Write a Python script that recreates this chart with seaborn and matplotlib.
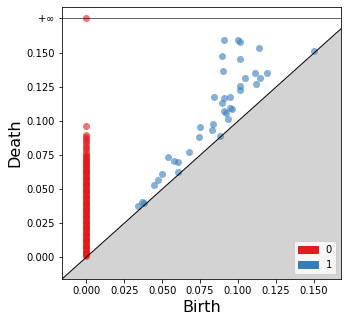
import numpy as np
import pandas as pd
import matplotlib
matplotlib.use("Agg")
import matplotlib.pyplot as plt
import matplotlib.patches as mpatches
import seaborn as sns

# H0 (dimension 0): all births at 0; one infinite class
h0_deaths = [0.0967, 0.0900, 0.0883, 0.0871, 0.0855, 0.0839, 0.0820, 0.0802,
             0.0785, 0.0770, 0.0755, 0.0745, 0.0735, 0.0726, 0.0716, 0.0705,
             0.0697, 0.0688, 0.0679, 0.0670, 0.0661, 0.0652, 0.0643, 0.0635,
             0.0626, 0.0618, 0.0609, 0.0600, 0.0591, 0.0582, 0.0573, 0.0565,
             0.0556, 0.0548, 0.0539, 0.0530, 0.0521, 0.0512, 0.0503, 0.0495,
             0.0486, 0.0478, 0.0469, 0.0460, 0.0451, 0.0442, 0.0433, 0.0425,
             0.0416, 0.0408, 0.0399, 0.0390, 0.0381, 0.0372, 0.0363, 0.0355,
             0.0346, 0.0338, 0.0329, 0.0320, 0.0311, 0.0302, 0.0293, 0.0285,
             0.0276, 0.0268, 0.0259, 0.0250, 0.0241, 0.0232, 0.0223, 0.0215,
             0.0206, 0.0198, 0.0189, 0.0180, 0.0171, 0.0162, 0.0153, 0.0145,
             0.0136, 0.0128, 0.0119, 0.0110, 0.0101, 0.0092, 0.0083, 0.0075,
             0.0066, 0.0058, 0.0049, 0.0040, 0.0032, 0.0025, 0.0018, 0.0012]
h0_inf_count = 1

# H1 (dimension 1)
h1_births = [0.0341, 0.0367, 0.0380, 0.0446, 0.0473, 0.0499, 0.0539, 0.0578,
             0.0605, 0.0605, 0.0677, 0.0743, 0.0829, 0.0884, 0.0908, 0.1000,
             0.1013, 0.1139, 0.0895, 0.1013, 0.0901, 0.1500, 0.1113, 0.1192,
             0.1146, 0.1047, 0.1119, 0.1013, 0.1013, 0.0842, 0.0908, 0.0947,
             0.0895, 0.0908, 0.0921, 0.0947, 0.0961, 0.0934, 0.0750, 0.0835]
h1_deaths = [0.0376, 0.0406, 0.0398, 0.0531, 0.0566, 0.0610, 0.0738, 0.0708,
             0.0699, 0.0627, 0.0773, 0.0883, 0.0937, 0.0893, 0.1600, 0.1600,
             0.1584, 0.1540, 0.1481, 0.1459, 0.1370, 0.1520, 0.1356, 0.1356,
             0.1319, 0.1319, 0.1275, 0.1260, 0.1230, 0.1179, 0.1171, 0.1179,
             0.1134, 0.1075, 0.1060, 0.1097, 0.1090, 0.1016, 0.0957, 0.0979]

dims = ["0", "1"]
colors = ["#e41a1c", "#377eb8"]

# gudhi-like axis extents
all_births = [0.0] + h1_births
finite_deaths = h0_deaths + h1_deaths
min_birth = min(all_births)
max_death = max(finite_deaths)
delta = (max_death - min_birth) * 0.1
infinity = max_death + delta
axis_end = max_death + delta / 2
axis_start = min_birth - delta

df = pd.DataFrame({
    "birth": [0.0] * (len(h0_deaths) + h0_inf_count) + h1_births,
    "death": h0_deaths + [infinity] * h0_inf_count + h1_deaths,
    "dim": ["0"] * (len(h0_deaths) + h0_inf_count) + ["1"] * len(h1_births),
})

fig = plt.figure(figsize=(348 / 72, 322 / 72), dpi=72)
ax = fig.add_axes([62 / 348, 1 - 279 / 322, (341 - 62) / 348, (279 - 7) / 322])

ax.add_patch(mpatches.Polygon([[axis_start, axis_start], [axis_end, axis_start],
                               [axis_end, axis_end]], closed=True, fill=True,
                              color="lightgrey", zorder=0))
ax.plot([axis_start, axis_end], [axis_start, axis_end], linewidth=1.0, color="k")

sns.scatterplot(data=df[df.dim == "1"], x="birth", y="death", color=colors[1],
                alpha=0.6, s=50, linewidth=0, ax=ax, legend=False)
sns.scatterplot(data=df[df.dim == "0"], x="birth", y="death", color=colors[0],
                alpha=0.6, s=50, linewidth=0, ax=ax, legend=False)

ax.plot([axis_start, axis_end], [infinity, infinity], linewidth=1.0, color="k", alpha=0.6)

yt = [0.0, 0.025, 0.05, 0.075, 0.1, 0.125, 0.15, infinity]
ytl = ["%.3f" % e for e in yt]
ytl[-1] = r"$+\infty$"
ax.set_yticks(yt)
ax.set_yticklabels(ytl)
xt = [0.0, 0.025, 0.05, 0.075, 0.1, 0.125, 0.15]
ax.set_xticks(xt)
ax.set_xticklabels(["%.3f" % e for e in xt])

ax.legend(handles=[mpatches.Patch(color=c, label=d) for d, c in zip(dims, colors)],
          loc="lower right")
ax.set_xlabel("Birth", fontsize=16)
ax.set_ylabel("Death", fontsize=16)
ax.axis([axis_start, axis_end, axis_start, infinity + delta / 2])

fig.savefig("out.png", dpi=72)
